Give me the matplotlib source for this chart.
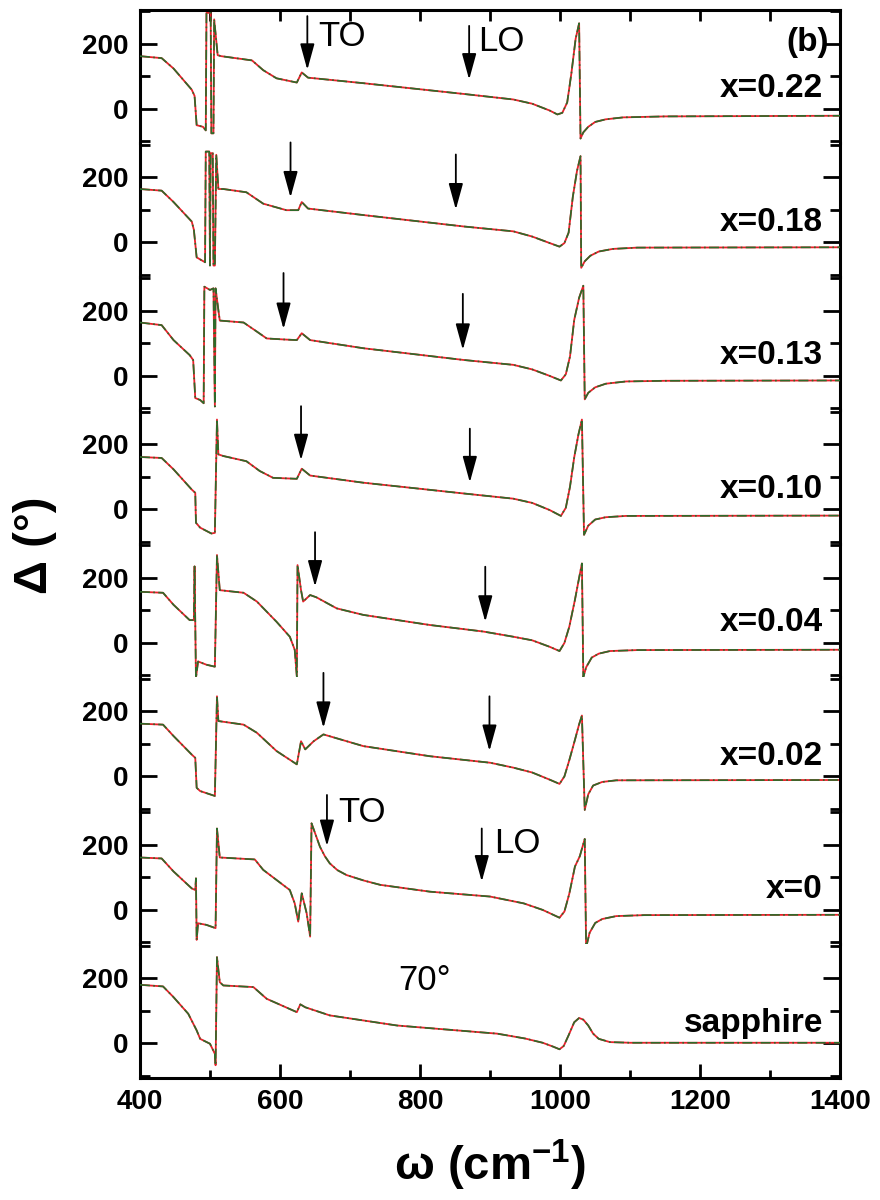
import matplotlib
matplotlib.use("Agg")
import matplotlib.pyplot as plt
from matplotlib.ticker import MultipleLocator, FixedLocator

plt.rcParams['font.family'] = ['Liberation Sans', 'DejaVu Sans']
plt.rcParams['mathtext.default'] = 'regular'

# panel labels, top to bottom
labels = ['x=0.22', 'x=0.18', 'x=0.13', 'x=0.10', 'x=0.04', 'x=0.02', 'x=0', 'sapphire']

# Delta spectra (wavenumber in cm-1, Delta in degrees)
w_022 = [400, 431, 448, 474, 478, 481, 490, 494, 495, 501, 502, 505, 506, 511, 516, 560, 576, 595, 624, 631, 640,
         719, 862, 933, 960, 985, 996, 1003, 1010, 1016, 1022, 1027, 1029, 1033, 1040, 1050, 1065, 1090, 1150, 1400]
d_022 = [162, 156, 124, 59, 40, -50, -55, -66, 295, 295, -75, -75, 275, 165, 162, 149, 119, 94, 81, 112, 96,
         79, 46, 29, 16, -5, -17, -12, 20, 110, 215, 263, -91, -72, -55, -40, -32, -26, -23, -21]

w_018 = [400, 431, 448, 474, 477, 481, 493, 494, 499, 500, 501, 504, 505, 507, 509, 512, 519, 552, 576, 609, 626,
         631, 640, 719, 862, 933, 960, 985, 999, 1006, 1012, 1018, 1024, 1029, 1030, 1035, 1043, 1055, 1075, 1110, 1400]
d_018 = [164, 159, 124, 64, 39, -46, -61, 279, 279, -71, 274, 274, -71, -71, 269, 164, 164, 154, 119, 99, 99,
         124, 104, 84, 49, 34, 18, -2, -13, -2, 30, 140, 220, 265, -78, -58, -41, -28, -20, -16, -15]

w_013 = [400, 431, 448, 471, 476, 479, 486, 491, 492, 500, 505, 507, 508, 512, 514, 548, 567, 581, 605, 624, 631,
         643, 719, 862, 933, 960, 985, 1001, 1008, 1014, 1020, 1027, 1033, 1035, 1040, 1050, 1065, 1094, 1150, 1400]
d_013 = [164, 156, 110, 64, 49, -68, -74, -84, 274, 264, 269, -94, 269, 202, 170, 164, 136, 115, 112, 110, 131,
         110, 85, 49, 34, 20, 0, -14, 5, 60, 172, 240, 277, -72, -52, -35, -24, -17, -15, -14]

w_010 = [400, 431, 448, 474, 479, 480, 486, 502, 507, 510, 512, 519, 552, 571, 590, 624, 631, 643, 719, 862, 933,
         960, 985, 1001, 1008, 1014, 1020, 1026, 1031, 1034, 1040, 1050, 1065, 1094, 1400]
d_010 = [161, 158, 123, 61, 51, -41, -56, -74, -72, 276, 169, 164, 148, 118, 97, 94, 125, 104, 82, 49, 33,
         20, -2, -20, 5, 70, 160, 230, 276, -78, -50, -31, -24, -20, -19]

w_004 = [400, 433, 448, 471, 477, 478, 480, 483, 495, 507, 510, 514, 548, 567, 595, 614, 621, 624, 625, 630, 633,
         643, 652, 681, 719, 814, 890, 933, 960, 985, 999, 1006, 1013, 1021, 1027, 1031, 1033, 1037, 1045, 1055,
         1071, 1110, 1400]
d_004 = [157, 154, 117, 70, 70, 235, -108, -57, -67, -73, 270, 162, 154, 127, 65, 19, -21, -103, 239, 162, 127,
         147, 140, 106, 86, 55, 35, 19, 8, -12, -25, 0, 50, 132, 200, 244, -105, -75, -45, -33,
         -25, -22, -21]

w_002 = [400, 433, 448, 474, 479, 481, 486, 507, 510, 512, 548, 567, 595, 624, 630, 636, 648, 662, 719, 814, 900,
         933, 960, 985, 999, 1006, 1013, 1021, 1027, 1031, 1035, 1040, 1047, 1060, 1080, 1400]
d_002 = [162, 159, 124, 67, 57, -35, -45, -60, 246, 170, 159, 134, 78, 37, 108, 83, 108, 129, 93, 62, 42,
         27, 12, -10, -23, 0, 50, 112, 160, 187, -103, -55, -28, -17, -12, -11]

w_000 = [400, 431, 448, 474, 479, 480, 481, 483, 495, 508, 510, 514, 564, 576, 614, 621, 626, 631, 638, 643, 645,
         651, 657, 664, 671, 682, 695, 720, 743, 814, 900, 948, 975, 990, 999, 1006, 1013, 1021, 1028, 1035, 1037,
         1042, 1050, 1060, 1080, 1120, 1400]
d_000 = [161, 158, 118, 66, 61, 97, -92, -41, -46, -56, 250, 161, 155, 123, 61, 20, -36, 51, -10, -82, 266,
         230, 194, 165, 143, 122, 107, 90, 77, 56, 41, 20, 0, -15, -24, -5, 50, 133, 165, 218, -115,
         -70, -40, -28, -19, -16, -15]

w_sap = [400, 433, 448, 469, 481, 486, 500, 507, 508, 510, 514, 519, 562, 581, 624, 629, 636, 671, 767, 910,
         950, 975, 990, 999, 1005, 1012, 1020, 1027, 1033, 1040, 1047, 1055, 1071, 1100, 1400]
d_sap = [180, 175, 142, 91, 40, 14, -1, -32, -67, 265, 188, 178, 173, 137, 96, 120, 111, 86, 55, 30,
         15, 2, -10, -18, -8, 25, 65, 78, 73, 55, 30, 14, 4, 2, 2]

waves = [w_022, w_018, w_013, w_010, w_004, w_002, w_000, w_sap]
deltas = [d_022, d_018, d_013, d_010, d_004, d_002, d_000, d_sap]

# TO / LO arrows (first seven panels): wavenumber, start and tip in degrees
to_w = [639, 615, 605, 630, 650, 662, 667]
to_top = [285, 307, 316, 317, 340, 318, 353]
to_tip = [120, 138, 144, 151, 173, 149, 196]
lo_w = [870, 851, 861, 871, 893, 899, 888]
lo_top = [255, 270, 252, 248, 234, 246, 250]
lo_tip = [90, 101, 80, 83, 65, 78, 87]

red = '#e8202a'
green = '#2d6b2a'

fig, axes = plt.subplots(8, 1, sharex=True, figsize=(8.8, 12), dpi=100)
fig.subplots_adjust(left=0.159, right=0.955, top=0.992, bottom=0.102, hspace=0)

n = len(axes)
for i, ax in enumerate(axes):
    ax.plot(waves[i], deltas[i], color=red, lw=1.3, zorder=2)
    ax.plot(waves[i], deltas[i], color=green, lw=1.2, dashes=(6, 2, 1, 2), zorder=3)
    ax.set_ylim(-105, 305)
    ax.set_xlim(400, 1400)
    ax.yaxis.set_major_locator(FixedLocator([0, 200]))
    ax.yaxis.set_minor_locator(FixedLocator([-100, 100, 300]))
    ax.tick_params(axis='y', which='both', direction='in', left=True, right=True, width=2)
    ax.tick_params(axis='y', which='major', length=12, labelsize=20, pad=8)
    ax.tick_params(axis='y', which='minor', length=7)
    for lab in ax.get_yticklabels():
        lab.set_fontweight('bold')
    for s in ['left', 'right', 'top', 'bottom']:
        ax.spines[s].set_linewidth(2.2)
    if i > 0:
        ax.spines['top'].set_visible(False)
    if i < n - 1:
        ax.spines['bottom'].set_visible(False)
        ax.tick_params(axis='x', which='both', bottom=False, labelbottom=False)
    ax.text(1375, 62, labels[i], ha='right', va='center', fontsize=24, fontweight='bold')

    if i < len(to_w):
        aprops = dict(arrowstyle='-|>,head_length=0.8,head_width=0.22', color='k', lw=1.3,
                      mutation_scale=20, shrinkA=0, shrinkB=0)
        ax.annotate('', xy=(to_w[i], to_tip[i]), xytext=(to_w[i], to_top[i]),
                    arrowprops=aprops, annotation_clip=False)
        ax.annotate('', xy=(lo_w[i], lo_tip[i]), xytext=(lo_w[i], lo_top[i]),
                    arrowprops=aprops, annotation_clip=False)

top_ax = axes[0]
top_ax.xaxis.set_major_locator(MultipleLocator(200))
top_ax.xaxis.set_minor_locator(MultipleLocator(100))
top_ax.tick_params(axis='x', which='both', top=True, direction='in', width=2, length=8)
top_ax.text(654, 221, 'TO', ha='left', va='center', fontsize=25)
top_ax.text(883, 208, 'LO', ha='left', va='center', fontsize=25)
top_ax.text(1383, 205, '(b)', ha='right', va='center', fontsize=24, fontweight='bold')

axes[6].text(683, 300, 'TO', ha='left', va='center', fontsize=25)
axes[6].text(905, 205, 'LO', ha='left', va='center', fontsize=25)
axes[7].text(769, 193, '70°', ha='left', va='center', fontsize=25)

bot = axes[-1]
bot.tick_params(axis='x', which='both', direction='in', bottom=True, top=False, width=2)
bot.tick_params(axis='x', which='major', length=10, labelsize=20, pad=8)
bot.tick_params(axis='x', which='minor', length=6)
for lab in bot.get_xticklabels():
    lab.set_fontweight('bold')

fig.text(0.04, 0.546, 'Δ (°)', rotation=90, ha='center', va='center', fontsize=34, fontweight='bold')
fig.text(0.557, 0.029, 'ω (cm$^{-1}$)', ha='center', va='center', fontsize=34, fontweight='bold')

fig.savefig('out.png', dpi=100)
